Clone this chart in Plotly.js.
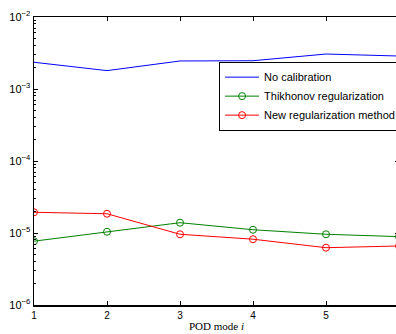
<!DOCTYPE html>
<html><head><meta charset="utf-8">
<script src="https://cdn.plot.ly/plotly-3.0.1.min.js"></script>
<style>html,body{margin:0;padding:0;overflow:hidden;background:#fff;}#c{width:414px;height:334px;}</style>
</head><body><div id="c"></div>
<script>
const modes = [1, 2, 3, 4, 5, 6];
const noCalibration = [2.35e-3, 1.80e-3, 2.45e-3, 2.47e-3, 3.06e-3, 2.87e-3];
const tikhonov = [7.7e-6, 1.04e-5, 1.39e-5, 1.11e-5, 9.6e-6, 8.9e-6];
const newMethod = [1.94e-5, 1.85e-5, 9.6e-6, 8.2e-6, 6.25e-6, 6.6e-6];
const yTickVals = [1e-6, 1e-5, 1e-4, 1e-3, 1e-2];
const yTickText = ['10<sup>−6</sup>', '10<sup>−5</sup>', '10<sup>−4</sup>', '10<sup>−3</sup>', '10<sup>−2</sup>'];
const names = ['No calibration', 'Thikhonov regularization', 'New regularization method'];

const traces = [
  {x: modes, y: noCalibration, name: names[0], mode: 'lines', line: {color: '#0000ff', width: 1}},
  {x: modes, y: tikhonov, name: names[1], mode: 'lines+markers', line: {color: '#008000', width: 1},
   marker: {symbol: 'circle-open', size: 7, color: '#008000', line: {width: 1}}},
  {x: modes, y: newMethod, name: names[2], mode: 'lines+markers', line: {color: '#ff0000', width: 1},
   marker: {symbol: 'circle-open', size: 7, color: '#ff0000', line: {width: 1}}}
];

const layout = {
  width: 414, height: 334,
  margin: {l: 34, r: 15, t: 17, b: 29},
  paper_bgcolor: '#fff', plot_bgcolor: '#fff',
  font: {family: 'Liberation Sans, Arial, sans-serif', size: 10, color: '#000'},
  showlegend: true,
  legend: {x: 0.507, y: 0.845, xanchor: 'left', yanchor: 'top', bgcolor: '#fff',
           bordercolor: '#000', borderwidth: 1, font: {size: 11}, tracegroupgap: 0, itemwidth: 34},
  xaxis: {range: [1, 6], tickvals: [1, 2, 3, 4, 5], ticks: 'inside', ticklen: 4, tickcolor: '#000',
          tickfont: {size: 10}, automargin: false,
          showline: true, linecolor: '#000', linewidth: 1.5, mirror: 'ticks', showgrid: false, zeroline: false,
          title: {text: 'POD mode <i>i</i>', font: {family: 'Liberation Serif, DejaVu Serif, serif', size: 11}, standoff: 3}},
  yaxis: {type: 'log', range: [-6, -2], tickvals: yTickVals, ticktext: yTickText, ticks: 'inside', ticklen: 4,
          tickfont: {size: 11}, automargin: false,
          tickcolor: '#000', showline: true, linecolor: '#000', linewidth: 1.5, mirror: 'ticks', showgrid: false,
          zeroline: false,
          minor: {ticks: 'inside', ticklen: 2, tickcolor: '#000', dtick: 'D1', showgrid: false}}
};

Plotly.newPlot('c', traces, layout, {displayModeBar: false, staticPlot: true});
</script></body></html>
